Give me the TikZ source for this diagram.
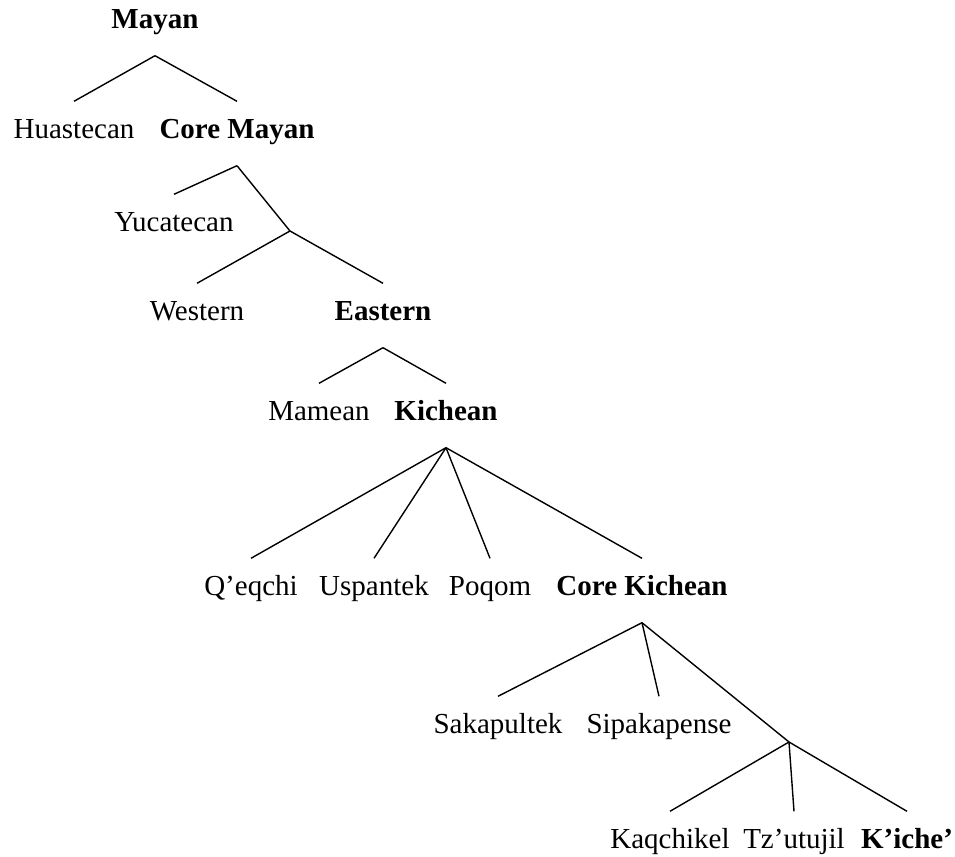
\documentclass[tikz,border=0pt]{standalone}
\usepackage{fontspec}
\setmainfont{Liberation Serif}

\begin{document}
\begin{tikzpicture}[x=0.5pt,y=-0.5pt,line width=0.7pt]
  \tikzstyle{every node}+=[inner xsep=0pt, inner ysep=0pt, anchor=base,
    text height=18pt, text depth=13.5pt, font=\fontsize{14.5}{17}\selectfont]
  \tikzstyle{group}=[font=\fontsize{14.5}{17}\selectfont\bfseries]
  \useasboundingbox (0,0) rectangle (955,857);
  % top levels
  \node [group] (mayan) at (155,28) {Mayan};
  \node (huastecan) at (74,138) {Huastecan};
  \node [group] (coremayan) at (237,138) {Core Mayan};
  \node (yucatecan) at (174,231) {Yucatecan};
  \coordinate (wesplit) at (290,231);
  \node (western) at (197,320) {Western};
  \node [group] (eastern) at (383,320) {Eastern};
  \node (mamean) at (319,420) {Mamean};
  \node [group] (kichean) at (446,420) {Kichean};
  % Kichean branch
  \node (qeqchi) at (251,595) {Q'eqchi};
  \node (uspantek) at (374,595) {Uspantek};
  \node (poqom) at (490,595) {Poqom};
  \node [group] (corekichean) at (642,595) {Core Kichean};
  \node (sakapultek) at (498,733) {Sakapultek};
  \node (sipakapense) at (659,733) {Sipakapense};
  \coordinate (kisplit) at (789,742);
  \node (kaqchikel) at (670,848) {Kaqchikel};
  \node (tzutujil) at (794,848) {Tz'utujil};
  \node [group] (kiche) at (907,848) {K'iche'};
  % edges
  \foreach \c in {huastecan,coremayan} \draw (mayan.south) -- (\c.north);
  \draw (coremayan.south) -- (yucatecan.north);
  \draw (coremayan.south) -- (wesplit);
  \foreach \c in {western,eastern} \draw (wesplit) -- (\c.north);
  \foreach \c in {mamean,kichean} \draw (eastern.south) -- (\c.north);
  \foreach \c in {qeqchi,uspantek,poqom,corekichean} \draw (kichean.south) -- (\c.north);
  \foreach \c in {sakapultek,sipakapense} \draw (corekichean.south) -- (\c.north);
  \draw (corekichean.south) -- (kisplit);
  \foreach \c in {kaqchikel,tzutujil,kiche} \draw (kisplit) -- (\c.north);
\end{tikzpicture}
\end{document}
